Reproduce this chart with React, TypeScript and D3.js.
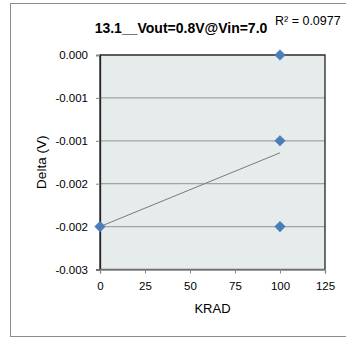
import React, { useEffect, useRef } from 'react';
import * as d3 from 'd3';

// data
const krad = [0, 100, 100, 100];
const delta = [-0.002, 0.0, -0.001, -0.002];
const trendX = [0, 100];
const trendY = [-0.002, -0.00114];
const xTicks = [0, 25, 50, 75, 100, 125];
const yTicks = [0, -0.0005, -0.001, -0.0015, -0.002, -0.0025];
const chartTitle = '13.1__Vout=0.8V@Vin=7.0';
const rSquared = 'R² = 0.0977';

// Excel style rounding (half away from zero) to 3 decimals
const fmtY = (v: number) => {
    const r = Math.sign(v) * Math.round(Math.abs(v) * 1000 + 1e-9) / 1000;
    return (r === 0 ? 0 : r).toFixed(3);
};

const App = () => {
    const svgRef = useRef<SVGSVGElement>(null);

    useEffect(() => {
        const W = 346;
        const H = 338;
        const plot = { left: 100, right: 325, top: 55, bottom: 269.5 };
        const font = '"Liberation Sans", Arial, sans-serif';

        const svg = d3.select(svgRef.current);
        svg.selectAll('*').remove();
        svg.attr('width', W).attr('height', H);

        const x = d3.scaleLinear().domain([0, 125]).range([plot.left, plot.right]);
        const y = d3.scaleLinear().domain([-0.0025, 0]).range([plot.bottom, plot.top]);

        // outer chart frame
        svg.append('rect')
            .attr('x', 10.5).attr('y', 3.5)
            .attr('width', 345).attr('height', 333)
            .attr('fill', '#fff')
            .attr('stroke', '#8c8c8c');

        // plot area
        svg.append('rect')
            .attr('x', plot.left).attr('y', plot.top)
            .attr('width', plot.right - plot.left).attr('height', plot.bottom - plot.top)
            .attr('fill', '#e6ebeb');

        // gridlines
        svg.append('g')
            .selectAll('line')
            .data(yTicks)
            .join('line')
            .attr('x1', plot.left).attr('x2', plot.right)
            .attr('y1', d => y(d)).attr('y2', d => y(d))
            .attr('stroke', '#a3a3a3')
            .attr('stroke-width', 1.2);

        // border of plot area
        svg.append('rect')
            .attr('x', plot.left).attr('y', plot.top)
            .attr('width', plot.right - plot.left).attr('height', plot.bottom - plot.top)
            .attr('fill', 'none')
            .attr('stroke', '#222')
            .attr('stroke-width', 1.3);

        // y axis
        const yAxis = svg.append('g')
            .attr('transform', `translate(${plot.left},0)`)
            .call(d3.axisLeft(y).tickValues(yTicks).tickFormat(d => fmtY(+d)).tickSize(4).tickPadding(8));
        yAxis.select('.domain').attr('stroke', '#222').attr('stroke-width', 1.3);
        yAxis.selectAll('.tick line').attr('stroke', '#888');
        yAxis.selectAll('text').attr('font-family', font).attr('font-size', 11.5).attr('fill', '#000');

        // x axis
        const xAxis = svg.append('g')
            .attr('transform', `translate(0,${plot.bottom})`)
            .call(d3.axisBottom(x).tickValues(xTicks).tickSize(4).tickPadding(8));
        xAxis.select('.domain').attr('stroke', '#888').attr('stroke-width', 1.3);
        xAxis.selectAll('.tick line').attr('stroke', '#888');
        xAxis.selectAll('text').attr('font-family', font).attr('font-size', 11.5).attr('fill', '#000');

        // trendline
        const line = d3.line<number>()
            .x((_, i) => x(trendX[i]))
            .y(d => y(d));
        svg.append('path')
            .datum(trendY)
            .attr('fill', 'none')
            .attr('stroke', '#7a7a7a')
            .attr('stroke-width', 1)
            .attr('d', line);

        // markers
        const diamond = d3.symbol().type(d3.symbolDiamond2).size(72);
        svg.append('g')
            .selectAll('path')
            .data(delta)
            .join('path')
            .attr('d', diamond)
            .attr('transform', (d, i) => `translate(${x(krad[i])},${y(d)})`)
            .attr('fill', '#4a7ebb')
            .attr('stroke', '#4a7ebb')
            .attr('stroke-width', 0.5);

        // titles
        svg.append('text')
            .attr('x', 181).attr('y', 33)
            .attr('text-anchor', 'middle')
            .attr('font-family', font).attr('font-weight', 'bold').attr('font-size', 14)
            .text(chartTitle);

        svg.append('text')
            .attr('x', 275).attr('y', 24.5)
            .attr('font-family', font).attr('font-size', 12.5)
            .text(rSquared);

        svg.append('text')
            .attr('x', (plot.left + plot.right) / 2).attr('y', 313)
            .attr('text-anchor', 'middle')
            .attr('font-family', font).attr('font-size', 13)
            .text('KRAD');

        svg.append('text')
            .attr('transform', `translate(46,${(plot.top + plot.bottom) / 2}) rotate(-90)`)
            .attr('text-anchor', 'middle')
            .attr('font-family', font).attr('font-size', 13.5)
            .text('Delta (V)');
    }, []);

    return (
        <svg ref={svgRef} style={{ position: 'absolute', left: 0, top: 0 }}></svg>
    );
};

export default App;
